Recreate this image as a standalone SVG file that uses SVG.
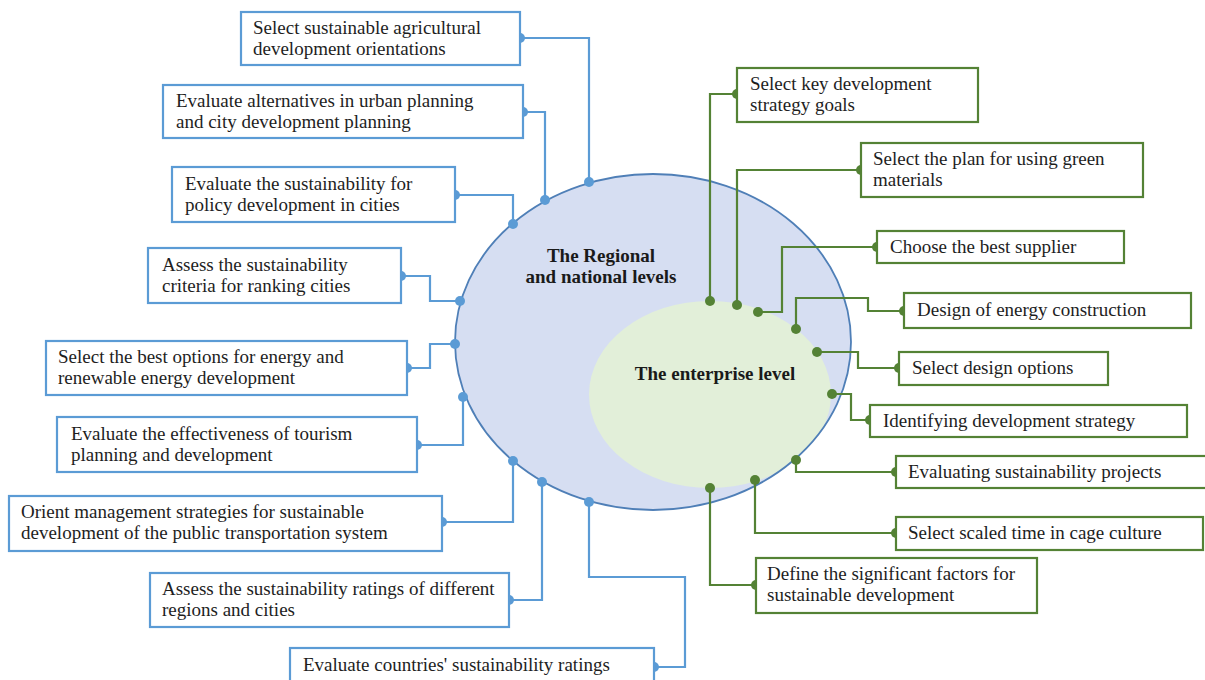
<svg xmlns="http://www.w3.org/2000/svg" width="1205" height="680" viewBox="0 0 1205 680">
  <style>
    .bbox { fill: #ffffff; stroke: #5b9bd5; stroke-width: 2.2; }
    .gbox { fill: #ffffff; stroke: #548235; stroke-width: 2.2; }
    .bline { fill: none; stroke: #5b9bd5; stroke-width: 2.2; }
    .gline { fill: none; stroke: #548235; stroke-width: 2.2; }
    .bdot { fill: #5b9bd5; }
    .gdot { fill: #548235; }
    .t { font-family: "Liberation Serif", "Times New Roman", serif; font-size: 19px; fill: #1e1e1e; }
    .tb { font-family: "Liberation Serif", "Times New Roman", serif; font-size: 19px; font-weight: bold; fill: #1a1a1a; text-anchor: middle; }
  </style>
  <defs>
    <clipPath id="outerClip">
      <ellipse cx="653" cy="342" rx="198" ry="168"/>
    </clipPath>
  </defs>
  <rect x="0" y="0" width="1205" height="680" fill="#ffffff"/>

  <!-- level ellipses -->
  <g id="regional-level">
    <ellipse cx="653" cy="342" rx="198" ry="168" fill="#d6def2"/>
    <text class="tb" x="601" y="262">The Regional</text>
    <text class="tb" x="601" y="283">and national levels</text>
  </g>
  <g id="enterprise-level">
    <ellipse cx="710" cy="394.5" rx="121" ry="93.5" fill="#e2efd9" clip-path="url(#outerClip)"/>
    <text class="tb" x="715" y="380">The enterprise level</text>
  </g>
  <!-- outline of the regional level, drawn over both fills -->
  <ellipse cx="653" cy="342" rx="198" ry="168" fill="none" stroke="#4f7fb7" stroke-width="1.8"/>

  <!-- connectors -->
  <g id="connectors">
    <!-- regional and national -->
    <polyline class="bline" points="520,38 589,38 589,182"/>
    <polyline class="bline" points="523,112 545,112 545,200"/>
    <polyline class="bline" points="455,195 513,195 513,224"/>
    <polyline class="bline" points="401,276 430,276 430,301 460,301"/>
    <polyline class="bline" points="407,368 430,368 430,344 455,344"/>
    <polyline class="bline" points="417,445 463,445 463,397"/>
    <polyline class="bline" points="442,522 513,522 513,461"/>
    <polyline class="bline" points="509,600 542,600 542,482"/>
    <polyline class="bline" points="654,667 685,667 685,577 589,577 589,502"/>
    <g class="bdot">
      <circle cx="520" cy="38" r="5"/><circle cx="589" cy="182" r="5"/>
      <circle cx="523" cy="112" r="5"/><circle cx="545" cy="200" r="5"/>
      <circle cx="455" cy="195" r="5"/><circle cx="513" cy="224" r="5"/>
      <circle cx="401" cy="276" r="5"/><circle cx="460" cy="301" r="5"/>
      <circle cx="407" cy="368" r="5"/><circle cx="455" cy="344" r="5"/>
      <circle cx="417" cy="445" r="5"/><circle cx="463" cy="397" r="5"/>
      <circle cx="442" cy="522" r="5"/><circle cx="513" cy="461" r="5"/>
      <circle cx="509" cy="600" r="5"/><circle cx="542" cy="482" r="5"/>
      <circle cx="654" cy="667" r="5"/><circle cx="589" cy="502" r="5"/>
    </g>
    <!-- enterprise -->
    <polyline class="gline" points="737,94 710,94 710,301"/>
    <polyline class="gline" points="861,170 737,170 737,305"/>
    <polyline class="gline" points="877,247 782,247 782,312 758,312"/>
    <polyline class="gline" points="904,311 868,311 868,298 796,298 796,329"/>
    <polyline class="gline" points="899,368 858,368 858,352 817,352"/>
    <polyline class="gline" points="870,420 851,420 851,394 832,394"/>
    <polyline class="gline" points="896,472 796,472 796,460"/>
    <polyline class="gline" points="896,533 755,533 755,480"/>
    <polyline class="gline" points="756,585 710,585 710,488"/>
    <g class="gdot">
      <circle cx="737" cy="94" r="5"/><circle cx="710" cy="301" r="5"/>
      <circle cx="861" cy="170" r="5"/><circle cx="737" cy="305" r="5"/>
      <circle cx="877" cy="247" r="5"/><circle cx="758" cy="312" r="5"/>
      <circle cx="904" cy="311" r="5"/><circle cx="796" cy="329" r="5"/>
      <circle cx="899" cy="368" r="5"/><circle cx="817" cy="352" r="5"/>
      <circle cx="870" cy="420" r="5"/><circle cx="832" cy="394" r="5"/>
      <circle cx="896" cy="472" r="5"/><circle cx="796" cy="460" r="5"/>
      <circle cx="896" cy="533" r="5"/><circle cx="755" cy="480" r="5"/>
      <circle cx="756" cy="585" r="5"/><circle cx="710" cy="488" r="5"/>
    </g>
  </g>

  <!-- regional and national level applications -->
  <g id="agri">
    <rect class="bbox" x="241" y="12" width="279" height="53"/>
    <text class="t" x="253" y="34">Select sustainable agricultural</text>
    <text class="t" x="253" y="55">development orientations</text>
  </g>
  <g id="urban">
    <rect class="bbox" x="163" y="85" width="360" height="53"/>
    <text class="t" x="176" y="107">Evaluate alternatives in urban planning</text>
    <text class="t" x="176" y="128">and city development planning</text>
  </g>
  <g id="policy">
    <rect class="bbox" x="172" y="167" width="283" height="55"/>
    <text class="t" x="185" y="190">Evaluate the sustainability for</text>
    <text class="t" x="185" y="211">policy development in cities</text>
  </g>
  <g id="ranking">
    <rect class="bbox" x="148" y="248" width="253" height="55"/>
    <text class="t" x="162" y="271">Assess the sustainability</text>
    <text class="t" x="162" y="292">criteria for ranking cities</text>
  </g>
  <g id="energy">
    <rect class="bbox" x="46" y="341" width="361" height="54"/>
    <text class="t" x="58" y="363">Select the best options for energy and</text>
    <text class="t" x="58" y="384">renewable energy development</text>
  </g>
  <g id="tourism">
    <rect class="bbox" x="57" y="417" width="360" height="55"/>
    <text class="t" x="71" y="440">Evaluate the effectiveness of tourism</text>
    <text class="t" x="71" y="461">planning and development</text>
  </g>
  <g id="transport">
    <rect class="bbox" x="9" y="496" width="433" height="55"/>
    <text class="t" x="21" y="518">Orient management strategies for sustainable</text>
    <text class="t" x="21" y="539">development of the public transportation system</text>
  </g>
  <g id="regions">
    <rect class="bbox" x="150" y="573" width="359" height="54"/>
    <text class="t" x="162" y="595">Assess the sustainability ratings of different</text>
    <text class="t" x="162" y="616">regions and cities</text>
  </g>
  <g id="countries">
    <rect class="bbox" x="290" y="648" width="364" height="34"/>
    <text class="t" x="303" y="671">Evaluate countries' sustainability ratings</text>
  </g>

  <!-- enterprise level applications -->
  <g id="goals">
    <rect class="gbox" x="737" y="68" width="241" height="54"/>
    <text class="t" x="750" y="90">Select key development</text>
    <text class="t" x="750" y="111">strategy goals</text>
  </g>
  <g id="green-materials">
    <rect class="gbox" x="861" y="143" width="282" height="54"/>
    <text class="t" x="873" y="165">Select the plan for using green</text>
    <text class="t" x="873" y="186">materials</text>
  </g>
  <g id="supplier">
    <rect class="gbox" x="877" y="231" width="247" height="32"/>
    <text class="t" x="890" y="253">Choose the best supplier</text>
  </g>
  <g id="energy-construction">
    <rect class="gbox" x="904" y="293" width="287" height="35"/>
    <text class="t" x="917" y="316">Design of energy construction</text>
  </g>
  <g id="design-options">
    <rect class="gbox" x="899" y="352" width="209" height="33"/>
    <text class="t" x="912" y="374">Select design options</text>
  </g>
  <g id="dev-strategy">
    <rect class="gbox" x="870" y="405" width="317" height="32"/>
    <text class="t" x="883" y="427">Identifying development strategy</text>
  </g>
  <g id="projects">
    <rect class="gbox" x="896" y="456" width="320" height="32"/>
    <text class="t" x="908" y="478">Evaluating sustainability projects</text>
  </g>
  <g id="cage-culture">
    <rect class="gbox" x="896" y="517" width="307" height="33"/>
    <text class="t" x="908" y="539">Select scaled time in cage culture</text>
  </g>
  <g id="factors">
    <rect class="gbox" x="756" y="558" width="281" height="55"/>
    <text class="t" x="767" y="580">Define the significant factors for</text>
    <text class="t" x="767" y="601">sustainable development</text>
  </g>
</svg>
